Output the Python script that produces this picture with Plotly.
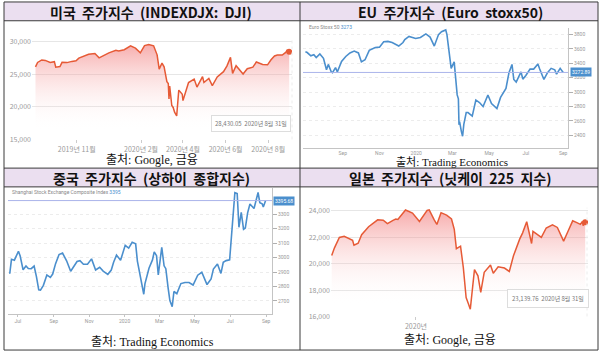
import plotly.graph_objects as go

# ---------------- data ----------------
dji_dates = ["2019-09-03","2019-09-06","2019-09-12","2019-09-17","2019-09-24","2019-09-30","2019-10-02","2019-10-08",
             "2019-10-11","2019-10-18","2019-10-25","2019-10-31","2019-11-04","2019-11-11","2019-11-18","2019-11-27",
             "2019-12-03","2019-12-10","2019-12-17","2019-12-27","2019-12-31","2020-01-08","2020-01-17","2020-01-24",
             "2020-01-31","2020-02-06","2020-02-12","2020-02-19","2020-02-24","2020-02-27","2020-03-02","2020-03-05",
             "2020-03-09","2020-03-11","2020-03-12","2020-03-13","2020-03-16","2020-03-18","2020-03-20","2020-03-23",
             "2020-03-26","2020-03-31","2020-04-01","2020-04-06","2020-04-09","2020-04-17","2020-04-21","2020-04-29",
             "2020-05-01","2020-05-08","2020-05-13","2020-05-20","2020-05-29","2020-06-03","2020-06-08","2020-06-11",
             "2020-06-16","2020-06-26","2020-07-02","2020-07-10","2020-07-15","2020-07-24","2020-07-31","2020-08-05",
             "2020-08-10","2020-08-14","2020-08-21","2020-08-26","2020-08-28","2020-08-31"]
dji_vals = [26118,26797,27182,27110,26807,26917,26078,26164,
            26817,26770,26958,27046,27462,27691,28036,28164,
            27502,27881,28267,28645,28538,28745,29348,28990,
            28256,29379,29551,29348,27961,25766,26703,26121,
            23851,23553,21200,23185,20188,19899,19174,18592,
            22552,21917,20943,22680,23719,24242,23018,24634,
            23724,24331,23248,24576,25383,26270,27572,25128,
            26290,25016,25827,26075,26870,26470,26428,27202,
            27791,27931,27930,28332,28654,28430]

euro_dates = ["2019-07-01","2019-07-04","2019-07-10","2019-07-15","2019-07-19","2019-07-25","2019-07-31","2019-08-05",
              "2019-08-08","2019-08-13","2019-08-15","2019-08-20","2019-08-23","2019-08-30","2019-09-06","2019-09-13",
              "2019-09-20","2019-09-27","2019-10-02","2019-10-08","2019-10-15","2019-10-25","2019-11-01","2019-11-08",
              "2019-11-15","2019-11-22","2019-12-03","2019-12-10","2019-12-13","2019-12-20","2019-12-31","2020-01-08",
              "2020-01-17","2020-01-24","2020-01-31","2020-02-07","2020-02-12","2020-02-19","2020-02-21","2020-02-24",
              "2020-02-28","2020-03-04","2020-03-06","2020-03-09","2020-03-11","2020-03-12","2020-03-13","2020-03-16",
              "2020-03-18","2020-03-20","2020-03-24","2020-03-27","2020-04-01","2020-04-03","2020-04-09","2020-04-15",
              "2020-04-21","2020-04-29","2020-05-05","2020-05-14","2020-05-20","2020-05-29","2020-06-03","2020-06-08",
              "2020-06-11","2020-06-15","2020-06-23","2020-06-26","2020-07-01","2020-07-08","2020-07-14","2020-07-21",
              "2020-07-24","2020-07-31","2020-08-06","2020-08-12","2020-08-18","2020-08-21","2020-08-27","2020-09-01"]
euro_vals = [3560,3550,3505,3520,3480,3530,3470,3310,
             3385,3280,3270,3340,3280,3425,3495,3545,
             3570,3545,3420,3450,3580,3620,3625,3700,
             3705,3690,3640,3690,3730,3775,3745,3760,
             3810,3765,3640,3800,3840,3865,3800,3620,
             3330,3420,3230,2960,2905,2545,2590,2450,
             2385,2550,2715,2715,2680,2665,2890,2855,
             2800,2960,2840,2770,2925,3050,3270,3385,
             3175,3140,3280,3180,3230,3320,3320,3390,
             3320,3175,3270,3330,3310,3250,3330,3273]

sse_dates = ["2019-06-17","2019-06-20","2019-06-25","2019-07-02","2019-07-05","2019-07-10","2019-07-15","2019-07-19",
             "2019-07-24","2019-07-29","2019-08-02","2019-08-06","2019-08-09","2019-08-14","2019-08-20","2019-08-26",
             "2019-08-30","2019-09-04","2019-09-10","2019-09-16","2019-09-23","2019-09-30","2019-10-11","2019-10-16",
             "2019-10-22","2019-10-29","2019-11-05","2019-11-12","2019-11-19","2019-11-25","2019-12-03","2019-12-09",
             "2019-12-13","2019-12-18","2019-12-25","2020-01-02","2020-01-08","2020-01-14","2020-01-20","2020-01-23",
             "2020-02-03","2020-02-05","2020-02-12","2020-02-18","2020-02-21","2020-02-25","2020-02-28","2020-03-05",
             "2020-03-09","2020-03-12","2020-03-16","2020-03-19","2020-03-23","2020-03-26","2020-03-31","2020-04-07",
             "2020-04-14","2020-04-21","2020-04-28","2020-05-06","2020-05-13","2020-05-22","2020-05-29","2020-06-02",
             "2020-06-09","2020-06-15","2020-06-19","2020-06-24","2020-06-30","2020-07-03","2020-07-06","2020-07-09",
             "2020-07-13","2020-07-16","2020-07-20","2020-07-24","2020-07-27","2020-07-31","2020-08-04","2020-08-11",
             "2020-08-18","2020-08-21","2020-08-25","2020-08-27","2020-08-31"]
sse_vals = [2888,2988,2982,3044,3011,2915,2942,2924,
            2923,2941,2868,2777,2774,2808,2880,2863,
            2886,2958,3021,3031,2978,2905,2973,2978,
            2954,2954,2991,2914,2933,2906,2884,2914,
            2968,3017,2981,3085,3066,3106,3095,2976,
            2746,2818,2926,2984,3040,3013,2880,3071,
            2943,2923,2789,2702,2660,2765,2750,2820,
            2827,2827,2810,2878,2898,2813,2852,2921,
            2956,2890,2967,2979,2985,3152,3332,3450,
            3443,3210,3314,3196,3205,3310,3371,3340,
            3451,3381,3373,3350,3395]

nk_dates = ["2019-09-02","2019-09-06","2019-09-13","2019-09-20","2019-10-02","2019-10-04","2019-10-10","2019-10-15",
            "2019-10-25","2019-11-07","2019-11-15","2019-11-21","2019-11-29","2019-12-03","2019-12-06","2019-12-17",
            "2019-12-27","2020-01-06","2020-01-17","2020-01-20","2020-01-27","2020-01-31","2020-02-06","2020-02-14",
            "2020-02-21","2020-02-25","2020-02-28","2020-03-05","2020-03-09","2020-03-13","2020-03-16","2020-03-19",
            "2020-03-25","2020-03-30","2020-04-03","2020-04-08","2020-04-17","2020-04-21","2020-04-28","2020-05-07",
            "2020-05-14","2020-05-20","2020-05-29","2020-06-02","2020-06-08","2020-06-11","2020-06-15","2020-06-17",
            "2020-06-29","2020-07-06","2020-07-15","2020-07-22","2020-07-31","2020-08-06","2020-08-13","2020-08-19",
            "2020-08-24","2020-08-27","2020-08-28","2020-08-31"]
nk_vals = [20620,21200,21990,22080,21780,21410,21550,22200,
           22800,23330,23300,23040,23290,23380,23350,24070,
           23840,23200,24040,24080,23340,22980,23870,23680,
           23390,22600,21140,21330,19700,17430,17000,16550,
           19550,19080,17820,19350,19900,19280,19770,19670,
           19410,20600,21880,22320,23180,22470,21530,22450,
           21990,22710,22950,22750,21710,22420,23250,23110,
           22980,23210,22880,23140]

dji_ticks = ["2019-11-01", "2020-02-01", "2020-04-01", "2020-06-01", "2020-08-01"]
dji_ticktext = ["2019년 11월", "2020년 2월", "2020년 4월", "2020년 6월", "2020년 8월"]
euro_ticks = ["2019-09-01", "2019-11-01", "2020-01-01", "2020-03-01", "2020-05-01", "2020-07-01", "2020-09-01"]
euro_ticktext = ["Sep", "Nov", "2020", "Mar", "May", "Jul", "Sep"]
sse_ticks = ["2019-07-01"] + euro_ticks
sse_ticktext = ["Jul"] + euro_ticktext
nk_ticks = ["2020-01-01"]
nk_ticktext = ["2020년"]

titles = ["미국  주가지수  (INDEXDJX:  DJI)", "EU  주가지수  (Euro  stoxx50)",
          "중국  주가지수  (상하이  종합지수)", "일본  주가지수  (닛케이  225  지수)"]
sources = ["출처: Google, 금융", "출처: Trading Economics", "출처: Trading Economics", "출처: Google, 금융"]

# ---------------- helpers ----------------
W, H = 600, 358
def PX(x): return x / W
def PY(y): return 1 - y / H

G_RED = "#e65a36"
TE_BLUE = "#4b8fcd"
GRAY_TXT = "#9a9a9a"
KFONT = "Noto Sans CJK KR"
SERIF = "Liberation Serif, Noto Sans CJK KR"

fig = go.Figure()

grad = [[0, "rgba(255,255,255,0)"], [1, "rgba(240,105,105,0.55)"]]
fig.add_trace(go.Scatter(x=dji_dates, y=dji_vals, xaxis="x", yaxis="y", mode="lines",
                         line=dict(color=G_RED, width=1.5), fill="tozeroy",
                         fillgradient=dict(type="vertical", colorscale=grad, start=16500, stop=29600),
                         hoverinfo="skip"))
fig.add_trace(go.Scatter(x=[dji_dates[-1]], y=[dji_vals[-1]], xaxis="x", yaxis="y", mode="markers",
                         marker=dict(color=G_RED, size=6), hoverinfo="skip"))
fig.add_trace(go.Scatter(x=euro_dates, y=euro_vals, xaxis="x2", yaxis="y2", mode="lines",
                         line=dict(color=TE_BLUE, width=1.6), hoverinfo="skip"))
fig.add_trace(go.Scatter(x=sse_dates, y=sse_vals, xaxis="x3", yaxis="y3", mode="lines",
                         line=dict(color=TE_BLUE, width=1.6), hoverinfo="skip"))
fig.add_trace(go.Scatter(x=nk_dates, y=nk_vals, xaxis="x4", yaxis="y4", mode="lines",
                         line=dict(color=G_RED, width=1.5), fill="tozeroy",
                         fillgradient=dict(type="vertical", colorscale=grad, start=17000, stop=24000),
                         hoverinfo="skip"))
fig.add_trace(go.Scatter(x=[nk_dates[-1]], y=[nk_vals[-1]], xaxis="x4", yaxis="y4", mode="markers",
                         marker=dict(color=G_RED, size=6), hoverinfo="skip"))

gtick = dict(size=7, color=GRAY_TXT, family=KFONT)
ttick = dict(size=5, color=GRAY_TXT, family="Roboto")

layout = dict(
    width=W, height=H, margin=dict(l=0, r=0, t=0, b=0),
    paper_bgcolor="white", plot_bgcolor="rgba(0,0,0,0)", showlegend=False,
    # --- DJI
    xaxis=dict(domain=[PX(32), PX(292)], range=["2019-08-29", "2020-09-04"], type="date", anchor="y",
               tickvals=dji_ticks, ticktext=dji_ticktext, showgrid=False, zeroline=False,
               ticks="outside", ticklen=3, tickcolor="#cccccc", tickfont=gtick, showline=False),
    yaxis=dict(domain=[PY(141), PY(36)], range=[15000, 15000 + 105 / 6.6 * 1000], anchor="x",
               tickvals=[15000, 20000, 25000, 30000], tickformat=",d", gridcolor="#e6e6e6",
               zeroline=False, tickfont=gtick, showline=False),
    # --- Euro stoxx
    xaxis2=dict(domain=[PX(303), PX(568)], range=["2019-06-27", "2020-09-09"], type="date", anchor="y2",
                tickvals=euro_ticks, ticktext=euro_ticktext, showgrid=False, zeroline=False,
                showline=True, linecolor="#c4c4c4", ticks="", ticklabelstandoff=0,
                tickfont=ttick),
    yaxis2=dict(domain=[PY(150), PY(28)], range=[2217, 3896], anchor="x2", side="right",
                tickvals=list(range(2400, 3801, 200)), gridcolor="#ececec", griddash="dot",
                zeroline=False, showline=True, linecolor="#c4c4c4", ticks="outside", ticklen=4,
                tickcolor="#b0b0b0", tickfont=ttick),
    # --- Shanghai
    xaxis3=dict(domain=[PX(8), PX(272)], range=["2019-06-14", "2020-09-11"], type="date", anchor="y3",
                tickvals=sse_ticks, ticktext=sse_ticktext, showgrid=False, zeroline=False,
                showline=True, linecolor="#c4c4c4", ticks="outside", ticklen=2, tickcolor="#c4c4c4",
                tickfont=ttick),
    yaxis3=dict(domain=[PY(318), PY(190)], range=[2606, 3483], anchor="x3", side="right",
                tickvals=list(range(2700, 3301, 100)), gridcolor="#ececec", griddash="dot",
                zeroline=False, showline=True, linecolor="#c4c4c4", ticks="outside", ticklen=4,
                tickcolor="#b0b0b0", tickfont=ttick),
    # --- Nikkei
    xaxis4=dict(domain=[PX(331), PX(588)], range=["2019-09-01", "2020-09-04"], type="date", anchor="y4",
                tickvals=nk_ticks, ticktext=nk_ticktext, showgrid=False, zeroline=False,
                ticks="outside", ticklen=3, tickcolor="#cccccc", tickfont=gtick, showline=False),
    yaxis4=dict(domain=[PY(320), PY(200)], range=[16000, 25000], anchor="x4",
                tickvals=[16000, 18000, 20000, 22000, 24000], tickformat=",d", gridcolor="#e6e6e6",
                zeroline=False, tickfont=gtick, showline=False),
)
fig.update_layout(**layout)

shapes = []
# title bands
for y0, y1 in [(2, 21), (170, 189)]:
    shapes.append(dict(type="rect", xref="paper", yref="paper", x0=PX(4), x1=PX(598), y0=PY(y1), y1=PY(y0),
                       fillcolor="#ebdff0", line=dict(width=0), layer="below"))
# current value lines (TE)
shapes.append(dict(type="line", xref="x2 domain", yref="y2", x0=0, x1=1, y0=3273, y1=3273,
                   line=dict(color="#aab4ea", width=1)))
shapes.append(dict(type="line", xref="x3 domain", yref="y3", x0=0, x1=1, y0=3395, y1=3395,
                   line=dict(color="#aab4ea", width=1)))
# faint right-edge verticals of the Google charts
shapes.append(dict(type="line", xref="paper", yref="paper", x0=PX(292), x1=PX(292), y0=PY(141), y1=PY(40),
                   line=dict(color="#ececec", width=1, dash="dot")))
shapes.append(dict(type="line", xref="paper", yref="paper", x0=PX(587), x1=PX(587), y0=PY(320), y1=PY(210),
                   line=dict(color="#ececec", width=1, dash="dot")))
# frame lines
BC = "#3a3a3a"
shapes.append(dict(type="rect", xref="paper", yref="paper", x0=PX(4), x1=PX(598), y0=PY(354), y1=PY(2),
                   line=dict(color=BC, width=1)))
for yy in [21, 170, 189]:
    shapes.append(dict(type="line", xref="paper", yref="paper", x0=PX(4), x1=PX(598), y0=PY(yy), y1=PY(yy),
                       line=dict(color=BC, width=1)))
shapes.append(dict(type="line", xref="paper", yref="paper", x0=PX(300), x1=PX(300), y0=PY(354), y1=PY(2),
                   line=dict(color=BC, width=1)))
fig.update_layout(shapes=shapes)

ann = []
title_pos = [(151, 12), (450, 12), (151, 180), (450, 180)]
for t, (x, y) in zip(titles, title_pos):
    ann.append(dict(text="<b>" + t.replace("  ", " \u00a0") + "</b>", x=PX(x), y=PY(y), xref="paper", yref="paper",
                    showarrow=False, font=dict(family=KFONT, size=14, color="#111111"),
                    xanchor="center", yanchor="middle"))
src_pos = [(152, 162), (452, 163.5), (152, 346), (450, 344)]
src_size = [12, 11, 12, 12]
for s, (x, y), fs in zip(sources, src_pos, src_size):
    ann.append(dict(text=s, x=PX(x), y=PY(y), xref="paper", yref="paper", showarrow=False,
                    font=dict(family=SERIF, size=fs, color="#111111"), xanchor="center", yanchor="middle"))
# Google tooltips
ann.append(dict(text="28,430.05 \u00a02020년 8월 31일", x=PX(251), y=PY(124.5), xref="paper", yref="paper",
                showarrow=False, font=dict(family=KFONT, size=6, color="#777777"), bgcolor="white",
                bordercolor="#dddddd", borderwidth=1, borderpad=3, xanchor="center", yanchor="middle"))
ann.append(dict(text="23,139.76 \u00a02020년 8월 31일", x=PX(548), y=PY(302), xref="paper", yref="paper",
                showarrow=False, font=dict(family=KFONT, size=6, color="#777777"), bgcolor="white",
                bordercolor="#dddddd", borderwidth=1, borderpad=4, xanchor="center", yanchor="middle"))
# TE chart titles
ann.append(dict(text="Euro Stoxx 50 <span style='color:#4b8fcd'>3273</span>", x=PX(307), y=PY(27),
                xref="paper", yref="paper", showarrow=False, font=dict(family="Roboto", size=5, color="#888888"),
                xanchor="left", yanchor="middle"))
ann.append(dict(text="Shanghai Stock Exchange Composite Index <span style='color:#4b8fcd'>3395</span>",
                x=PX(10), y=PY(194), xref="paper", yref="paper", showarrow=False,
                font=dict(family="Roboto", size=5, color="#888888"), xanchor="left", yanchor="middle"))
# TE current value boxes
ann.append(dict(text="3272.89", x=PX(570), y=3273, xref="paper", yref="y2", showarrow=False,
                font=dict(family="Roboto", size=5, color="white"), bgcolor=TE_BLUE, borderpad=1,
                xanchor="left", yanchor="middle"))
ann.append(dict(text="3395.68", x=PX(273), y=3395, xref="paper", yref="y3", showarrow=False,
                font=dict(family="Roboto", size=5, color="white"), bgcolor=TE_BLUE, borderpad=1,
                xanchor="left", yanchor="middle"))
fig.update_layout(annotations=ann)

fig.write_html("out.html", config={"displayModeBar": False},
               post_script="document.body.style.margin='0';document.body.style.overflow='hidden';")
